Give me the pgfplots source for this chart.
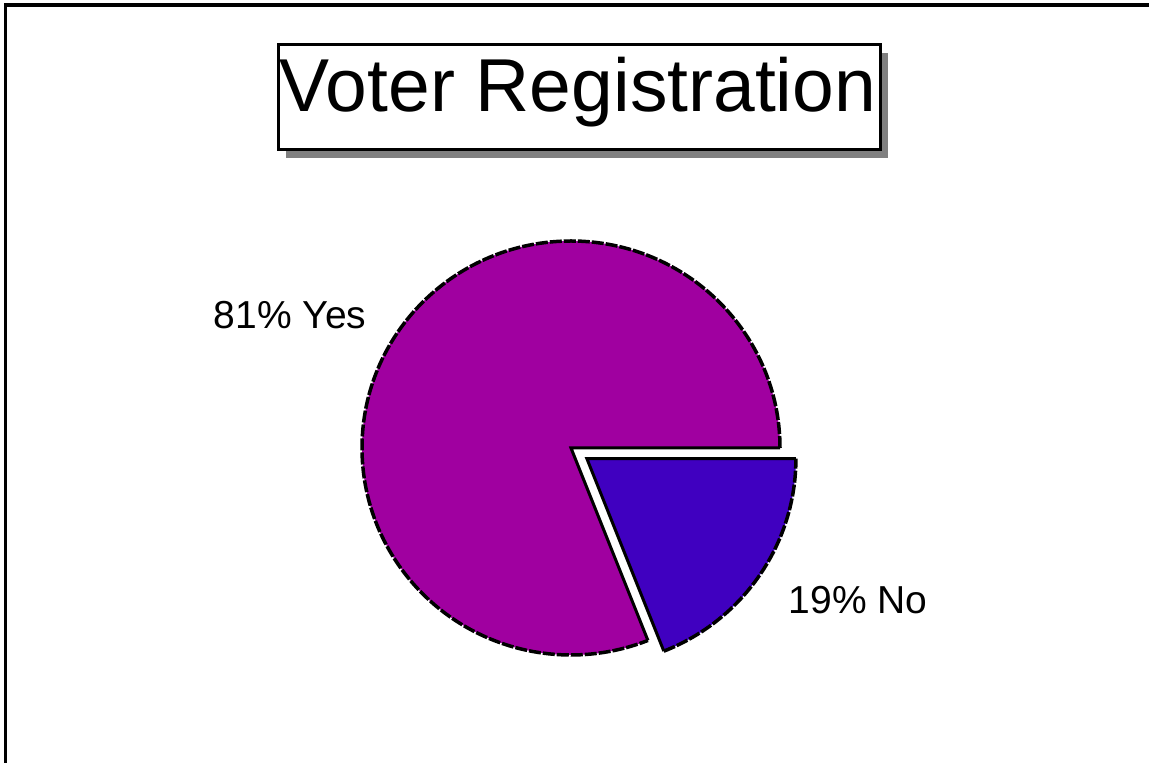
\documentclass[border=0pt]{standalone}
\usepackage{fontspec}
\setmainfont{Liberation Sans}
\usepackage{pgfplots}
\usepackage{pgfplotstable}
\pgfplotsset{compat=1.18}
\definecolor{yescol}{RGB}{160,0,160}
\definecolor{nocol}{RGB}{64,0,192}
\definecolor{shadowgray}{RGB}{128,128,128}

\pgfplotstableread{
label value
Yes 81
No 19
}\piedata

\begin{document}
\begin{tikzpicture}
\pgfplotstablegetelem{0}{value}\of\piedata \edef\yesval{\pgfplotsretval}
\pgfplotstablegetelem{1}{value}\of\piedata \edef\noval{\pgfplotsretval}
\pgfmathsetmacro\noang{360*\noval/(\yesval+\noval)}
\pgfmathsetmacro\yesend{360-\noang}
\pgfmathsetmacro\midang{-\noang/2}
\pgfmathsetmacro\ex{0.092*cos(\midang)}
\pgfmathsetmacro\ey{0.092*sin(\midang)}
\pgfmathsetmacro\yx{cos(\yesend)}
\pgfmathsetmacro\yy{sin(\yesend)}
\pgfmathsetmacro\nax{\ex+cos(-\noang)}
\pgfmathsetmacro\nay{\ey+sin(-\noang)}
\pgfmathsetmacro\nbx{\ex+1}
\useasboundingbox (0,0) rectangle (1149pt,763pt);
% frame
\draw[line width=3pt] (5.5pt,0pt) -- (5.5pt,760pt);
\draw[line width=3.5pt] (4pt,758pt) -- (1149pt,758pt);
% title
\fill[shadowgray] (286pt,605pt) rectangle (888pt,710pt);
\filldraw[fill=white, draw=black, line width=3pt] (278pt,613pt) rectangle (880pt,718pt);
\node[anchor=base, font=\fontsize{75}{75}\selectfont, inner sep=0pt] at (578pt,651pt) {Voter Registration};
\begin{axis}[at={(571pt,315pt)}, anchor=center, x=209pt, y=207pt,
  xmin=-1.2, xmax=1.2, ymin=-1.2, ymax=1.2, hide axis, clip=false]
% Yes slice
\fill[yescol] (axis cs:0,0) -- (axis cs:1,0) arc[start angle=0, end angle=\yesend, x radius=1, y radius=1] -- cycle;
\draw[line width=3.5pt, dash pattern=on 12pt off 2pt] (axis cs:1,0) arc[start angle=0, end angle=\yesend, x radius=1, y radius=1];
\draw[line width=3pt, line join=miter] (axis cs:\yx,\yy) -- (axis cs:0,0) -- (axis cs:1,0);
% No slice (exploded)
\fill[nocol] (axis cs:\ex,\ey) -- (axis cs:\nax,\nay) arc[start angle=-\noang, end angle=0, x radius=1, y radius=1] -- cycle;
\draw[line width=3.5pt, dash pattern=on 12pt off 2pt] (axis cs:\nax,\nay) arc[start angle=-\noang, end angle=0, x radius=1, y radius=1];
\draw[line width=3pt, line join=miter] (axis cs:\nax,\nay) -- (axis cs:\ex,\ey) -- (axis cs:\nbx,\ey);
\end{axis}
\node[font=\fontsize{39}{39}\selectfont, inner sep=0pt] at (290pt,448pt) {81\% Yes};
\node[font=\fontsize{39}{39}\selectfont, inner sep=0pt] at (858pt,163pt) {19\% No};
\end{tikzpicture}
\end{document}
